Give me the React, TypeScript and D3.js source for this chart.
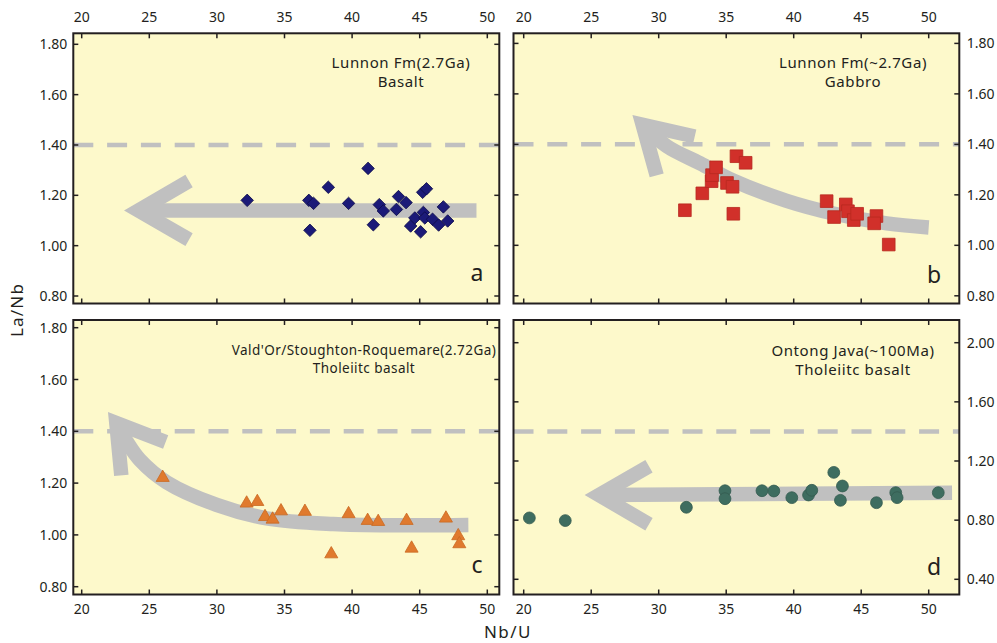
import React from "react";
import * as d3 from "d3";

// tick values
const nbuTicks = [20, 25, 30, 35, 40, 45, 50];
const laNbTicks = [0.8, 1.0, 1.2, 1.4, 1.6, 1.8];
const laNbTicksD = [0.4, 0.8, 1.2, 1.6, 2.0];
const refLaNb = 1.4;

// a: Lunnon Fm basalt (diamonds)
const basaltNbU = [32.24, 36.8, 37.15, 36.88, 38.24, 39.74, 41.18, 41.57, 42.01, 42.31, 43.28, 43.43, 43.99, 44.33, 44.64, 45.07, 45.27, 45.22, 45.5, 45.38, 45.95, 46.4, 46.75, 47.07];
const basaltLaNb = [1.18, 1.18, 1.168, 1.061, 1.232, 1.168, 1.307, 1.083, 1.163, 1.138, 1.144, 1.195, 1.171, 1.078, 1.11, 1.055, 1.132, 1.212, 1.226, 1.11, 1.105, 1.082, 1.154, 1.098];

// b: Lunnon Fm gabbro (squares)
const gabbroNbU = [31.94, 33.23, 33.92, 33.95, 34.25, 35.06, 35.47, 35.53, 35.76, 36.44, 42.44, 42.99, 43.86, 44.02, 44.45, 44.7, 46.13, 45.96, 47.04];
const gabbroLaNb = [1.139, 1.206, 1.254, 1.278, 1.309, 1.247, 1.232, 1.125, 1.353, 1.327, 1.175, 1.112, 1.162, 1.135, 1.1, 1.125, 1.116, 1.087, 1.003];

// c: Val d'Or tholeiite (triangles)
const valdorNbU = [25.99, 32.2, 32.99, 33.56, 34.12, 34.74, 36.51, 38.46, 39.74, 41.15, 41.93, 44.03, 44.4, 46.94, 47.85, 47.93];
const valdorLaNb = [1.221, 1.122, 1.128, 1.07, 1.06, 1.092, 1.09, 0.926, 1.081, 1.055, 1.051, 1.055, 0.948, 1.064, 0.996, 0.965];

// d: Ontong Java tholeiite (circles)
const ontongNbU = [20.42, 23.08, 32.05, 34.91, 34.91, 37.65, 38.53, 39.86, 41.1, 41.34, 42.97, 43.61, 43.46, 46.13, 47.56, 47.66, 50.71];
const ontongLaNb = [0.815, 0.797, 0.887, 0.999, 0.945, 0.999, 0.997, 0.952, 0.97, 1.002, 1.123, 1.031, 0.934, 0.918, 0.986, 0.952, 0.986];

// trend arrows (Nb/U, La/Nb): shaft centreline and open arrowhead
const trendA = [[49.2, 1.14], [24.2, 1.14]];
const headA = [[27.94, 1.257], [24.2, 1.14], [27.94, 1.024]];
const trendB = [[50.0, 1.071], [46.89, 1.087], [42.93, 1.126], [39.48, 1.176], [35.53, 1.256], [33.06, 1.325], [30.59, 1.393], [28.81, 1.478]];
const headB = [[32.67, 1.431], [28.81, 1.478], [29.85, 1.277]];
const trendC = [[48.6, 1.038], [43.54, 1.037], [38.61, 1.042], [33.68, 1.064], [29.98, 1.116], [26.29, 1.203], [24.31, 1.289], [23.33, 1.36], [22.56, 1.432]];
const headC = [[26.21, 1.359], [22.56, 1.432], [22.93, 1.23]];
const trendD = [[51.73, 0.986], [25.58, 0.97]];
const headD = [[29.28, 1.164], [25.58, 0.97], [29.28, 0.772]];

const FONT = "'Noto Sans', 'Open Sans', sans-serif";
const INK = "#231f20";
const GREY = "#c0c0c0";

const panels = [
  {
    key: "a", box: [73.3, 33.3, 499.3, 303.5],
    x: d3.scaleLinear().domain([20, 50]).range([81.7, 487.3]),
    y: d3.scaleLinear().domain([0.8, 1.8]).range([296, 44.3]),
    yTicks: laNbTicks, xSide: "top", ySide: "left",
    xs: basaltNbU, ys: basaltLaNb, symbol: d3.symbolSquare, size: 78, rotate: 45,
    fill: "#1b1a78", stroke: "#0e0d4a",
    trend: trendA, head: headA, curved: false,
    title: ["Lunnon Fm(2.7Ga)", "Basalt"], tx: 401, ty: [67.5, 87], tsize: 15, ls: 0.6,
    letter: "a", lx: 477, ly: 281,
  },
  {
    key: "b", box: [513.5, 33.3, 959.3, 303.5],
    x: d3.scaleLinear().domain([20, 50]).range([523.7, 928.7]),
    y: d3.scaleLinear().domain([0.8, 1.8]).range([295.8, 43.4]),
    yTicks: laNbTicks, xSide: "top", ySide: "right",
    xs: gabbroNbU, ys: gabbroLaNb, symbol: d3.symbolSquare, size: 160, rotate: 0,
    fill: "#d1302a", stroke: "#b8281f",
    trend: trendB, head: headB, curved: true,
    title: ["Lunnon Fm(~2.7Ga)", "Gabbro"], tx: 853, ty: [67.5, 87], tsize: 15, ls: 0.6,
    letter: "b", lx: 934, ly: 283,
  },
  {
    key: "c", box: [73.3, 320, 499.3, 594.5],
    x: d3.scaleLinear().domain([20, 50]).range([81.7, 487.3]),
    y: d3.scaleLinear().domain([0.8, 1.8]).range([586.7, 327.7]),
    yTicks: laNbTicks, xSide: "bottom", ySide: "left",
    xs: valdorNbU, ys: valdorLaNb, symbol: d3.symbolTriangle, size: 74, rotate: 0,
    fill: "#e07a2e", stroke: "#c96a22",
    trend: trendC, head: headC, curved: true,
    title: ["Vald'Or/Stoughton-Roquemare(2.72Ga)", "Tholeiitc basalt"], tx: 364, ty: [354.5, 373], tsize: 13.5, ls: 0.45,
    letter: "c", lx: 477, ly: 573,
  },
  {
    key: "d", box: [513.5, 320, 959.3, 594.5],
    x: d3.scaleLinear().domain([20, 50]).range([523.7, 928.7]),
    y: d3.scaleLinear().domain([0.4, 2.0]).range([579.3, 342.7]),
    yTicks: laNbTicksD, xSide: "bottom", ySide: "right",
    xs: ontongNbU, ys: ontongLaNb, symbol: d3.symbolCircle, size: 110, rotate: 0,
    fill: "#3e6d60", stroke: "#335a4f",
    trend: trendD, head: headD, curved: false,
    title: ["Ontong Java(~100Ma)", "Tholeiitc basalt"], tx: 853, ty: [355.5, 374.5], tsize: 15, ls: 0.6,
    letter: "d", lx: 934, ly: 575,
  },
];

const Panel = ({ p }) => {
  const [x0, y0, x1, y1] = p.box;
  const line = d3.line().x((d) => p.x(d[0])).y((d) => p.y(d[1]));
  const curve = p.curved ? line.curve(d3.curveCatmullRom.alpha(0.5)) : line;
  const headLine = d3.line().x((d) => p.x(d[0])).y((d) => p.y(d[1]));
  const sym = d3.symbol().type(p.symbol).size(p.size)();
  const tk = 5;
  return (
    <g>
      <rect x={x0} y={y0} width={x1 - x0} height={y1 - y0} fill="#fdf9cb" />
      <line x1={x0} x2={x1} y1={p.y(refLaNb)} y2={p.y(refLaNb)} stroke={GREY} strokeWidth={4.5} strokeDasharray="20 13.8" />
      <path d={curve(p.trend)} fill="none" stroke={GREY} strokeWidth={14.5} strokeLinecap="butt" />
      <path d={headLine(p.head)} fill="none" stroke={GREY} strokeWidth={14.5} strokeLinecap="butt" strokeLinejoin="miter" strokeMiterlimit={10} />
      {p.xs.map((v, i) => (
        <path key={i} d={sym} transform={`translate(${p.x(v)},${p.y(p.ys[i])}) rotate(${p.rotate})`} fill={p.fill} stroke={p.stroke} strokeWidth={0.8} />
      ))}
      {nbuTicks.map((t) => (
        <g key={"x" + t}>
          <line x1={p.x(t)} x2={p.x(t)} y1={y0} y2={y0 + tk} stroke={INK} strokeWidth={1.5} />
          <line x1={p.x(t)} x2={p.x(t)} y1={y1} y2={y1 - tk} stroke={INK} strokeWidth={1.5} />
          <text x={p.x(t)} y={p.xSide === "top" ? y0 - 11 : y1 + 19.5} textAnchor="middle" fontSize={14} fill={INK}>{t}</text>
        </g>
      ))}
      {p.yTicks.map((t) => (
        <g key={"y" + t}>
          <line x1={x0} x2={x0 + tk} y1={p.y(t)} y2={p.y(t)} stroke={INK} strokeWidth={1.5} />
          <line x1={x1} x2={x1 - tk} y1={p.y(t)} y2={p.y(t)} stroke={INK} strokeWidth={1.5} />
          <text x={p.ySide === "left" ? x0 - 6 : x1 + 7.5} y={p.y(t) + 5} textAnchor={p.ySide === "left" ? "end" : "start"} fontSize={14} fill={INK}>{t.toFixed(2)}</text>
        </g>
      ))}
      <rect x={x0} y={y0} width={x1 - x0} height={y1 - y0} fill="none" stroke={INK} strokeWidth={2} />
      {p.title.map((s, i) => (
        <text key={i} x={p.tx} y={p.ty[i]} textAnchor="middle" fontSize={p.tsize} letterSpacing={p.ls} fill={INK}>{s}</text>
      ))}
      <text x={p.lx} y={p.ly} textAnchor="middle" fontSize={23} fill={INK}>{p.letter}</text>
    </g>
  );
};

export default function App() {
  return (
    <svg width={997} height={643} style={{ position: "absolute", left: 0, top: 0, background: "#fff" }} fontFamily={FONT}>
      {panels.map((p) => <Panel key={p.key} p={p} />)}
      <text transform="translate(23,310) rotate(-90)" textAnchor="middle" fontSize={17} letterSpacing={1.2} fill={INK}>La/Nb</text>
      <text x={508} y={638} textAnchor="middle" fontSize={17} letterSpacing={1.5} fill={INK}>Nb/U</text>
    </svg>
  );
}
